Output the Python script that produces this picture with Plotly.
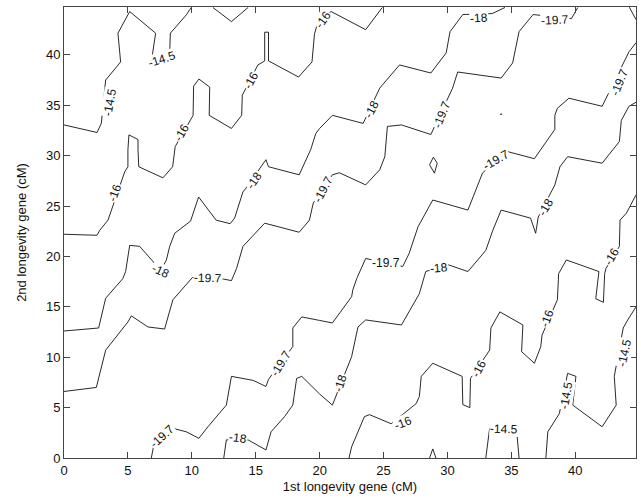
import plotly.graph_objects as go

# ---- contour levels ----
levels = [-14.5, -16, -18, -19.7]

# ---- contour paths (x = 1st gene cM, y = 2nd gene cM) ----
# level -14.5, upper-left
c145_tl_x = [0, 2.58, 2.92, 3.26, 4.43, 4.22, 5.14, 7.17, 6.83, 7.7, 8.27, 8.32, 9.57, 9.96]
c145_tl_y = [33.05, 32.3, 33.2, 37.5, 39.3, 42.15, 44.3, 42.15, 39.3, 39.6, 40.3, 42.15, 43.97, 44.7]
# level -14.5, small dip from top edge
c145_top_x = [11.65, 13.1, 14.4]
c145_top_y = [44.7, 43.3, 44.7]
# level -14.5, bottom arch
c145_arch_x = [33.0, 33.3, 35.4, 35.6]
c145_arch_y = [0, 2.95, 2.95, 0]
# level -14.5, lower-right
c145_br_x = [37.7, 37.85, 38.75, 39.4, 40.05, 39.8, 42.1, 43.2, 43.05, 43.75, 44.1, 44.75]
c145_br_y = [0, 2.6, 4.4, 8.4, 8.1, 5.25, 3.1, 5.25, 8.1, 12.9, 13.7, 15.0]

# level -16, upper-left band
c16_up_x = [0, 2.58, 2.8, 3.44, 4.75, 5.0, 5.0, 5.08, 5.79, 5.79, 5.85, 7.74, 8.5, 8.66, 8.7,
            10.1, 10.14, 10.56, 11.4, 11.36, 13.1, 13.9, 13.95, 15.17, 15.7, 15.7, 16.0, 16.0,
            18.35, 19.4, 19.6, 19.9, 20.9, 23.6, 24.9]
c16_up_y = [22.2, 22.1, 22.6, 23.6, 28.4, 28.9, 30.6, 32.06, 31.6, 30.6, 28.9, 27.8, 28.9, 30.6, 30.9,
            34.0, 36.9, 37.6, 36.8, 34.0, 32.7, 34.0, 36.0, 39.0, 39.4, 42.25, 42.25, 39.4,
            37.8, 39.3, 42.1, 43.4, 44.3, 42.5, 44.7]
# level -16, lower-right band
c16_lo_x = [22.3, 22.5, 23.5, 23.9, 25.6, 27.55, 27.8, 27.95, 28.85, 31.15, 31.2, 31.75, 31.8,
            33.3, 33.4, 34.1, 35.9, 35.8, 36.8, 37.3, 37.4, 38.6, 38.7, 39.3, 41.85, 41.6,
            42.2, 42.3, 42.4, 43.45, 43.5, 44.0, 44.75]
c16_lo_y = [0, 1.1, 4.1, 4.3, 3.4, 5.4, 6.1, 8.1, 9.4, 8.1, 5.3, 5.0, 7.9,
            10.7, 12.9, 14.5, 13.2, 10.55, 9.4, 11.05, 12.2, 15.7, 18.3, 19.65, 18.5, 15.8,
            15.45, 18.3, 18.8, 21.0, 23.6, 24.3, 26.1]
# level -16, tiny spike at the bottom edge
c16_spk_x = [28.6, 28.85, 29.1]
c16_spk_y = [0, 0.9, 0]

# level -18, upper-left band
c18_up_x = [0, 2.71, 3.26, 4.6, 4.82, 5.08, 5.14, 5.92, 7.1, 7.6, 8.0, 8.27, 8.66, 9.9, 10.53,
            11.9, 13.0, 13.35, 14.0, 14.25, 15.8, 16.0, 18.4, 19.3, 19.7, 20.0, 21.0, 23.4,
            24.7, 26.25, 28.7, 29.9, 30.2, 31.2, 33.5, 34.5]
c18_up_y = [12.6, 12.9, 15.85, 17.8, 18.5, 20.6, 21.1, 21.0, 19.3, 18.7, 19.6, 21.0, 22.3, 23.5, 25.9,
            23.6, 23.25, 23.8, 26.4, 26.8, 29.6, 28.9, 28.1, 30.6, 32.2, 32.7, 34.0, 33.2,
            36.7, 39.0, 38.2, 40.2, 42.3, 44.0, 44.1, 44.7]
# level -18, lower-right band
c18_lo_x = [12.5, 12.7, 14.4, 15.8, 16.2, 17.25, 17.9, 18.2, 18.6, 20.0, 21.0, 22.5, 23.0, 23.6,
            26.4, 27.8, 28.3, 30.0, 31.6, 33.0, 33.55, 34.2, 36.5, 36.9, 37.1, 38.4, 38.8,
            39.4, 42.1, 43.45, 43.6, 43.8, 44.2, 44.75]
c18_lo_y = [0, 1.8, 1.8, 0.8, 2.6, 4.1, 5.25, 7.9, 8.1, 6.35, 5.25, 10.05, 13.0, 13.7,
            13.2, 16.3, 18.5, 19.2, 18.5, 20.6, 22.6, 24.6, 23.8, 22.3, 23.9, 27.1, 28.9,
            29.9, 29.25, 31.4, 33.5, 34.0, 34.9, 35.3]

# level -19.7, upper-left band
c197_up_x = [0, 2.53, 3.26, 5.0, 5.27, 6.57, 7.87, 8.52, 10.04, 12.5, 13.1, 13.5, 14.0, 15.7,
             18.4, 19.2, 19.5, 21.0, 21.55, 23.6, 24.7, 25.1, 25.3, 26.4, 28.7, 30.4, 30.8,
             34.2, 35.1, 35.6, 36.7, 39.7, 40.2]
c197_up_y = [6.6, 7.0, 10.7, 13.5, 14.1, 13.0, 12.8, 15.7, 17.9, 17.75, 17.6, 18.8, 21.0, 23.3,
             22.4, 23.6, 25.3, 28.1, 28.3, 27.1, 28.6, 29.9, 32.9, 33.05, 32.1, 36.7, 38.3,
             37.7, 39.2, 42.3, 44.0, 43.6, 44.7]
# level -19.7, lower-right band
c197_lo_x = [6.83, 7.0, 8.5, 9.57, 10.55, 11.26, 12.7, 13.1, 14.8, 15.8, 16.0, 17.9, 17.9, 18.6,
             20.0, 21.0, 22.5, 22.6, 22.9, 23.6, 26.5, 27.0, 27.7, 28.85, 31.6, 32.75, 34.7,
             36.8, 38.4, 38.4, 38.6, 39.5, 42.1, 42.5, 43.6, 44.2, 44.75]
c197_lo_y = [0, 1.1, 2.95, 2.6, 1.95, 3.1, 5.25, 8.1, 7.7, 7.1, 7.8, 11.05, 12.9, 14.0,
             13.65, 13.4, 16.0, 16.7, 17.8, 19.8, 19.0, 20.3, 22.95, 25.6, 24.6, 28.3, 30.4,
             29.7, 32.6, 34.0, 34.7, 35.7, 34.9, 35.9, 38.8, 40.3, 41.2]
# level -19.7, small closed loop
c197_loop_x = [28.6, 28.9, 29.2, 28.98, 28.6]
c197_loop_y = [29.1, 29.85, 29.25, 28.26, 29.1]
# level -19.7, tiny dot
c197_dot_x = [34.15, 34.2, 34.25, 34.2, 34.15]
c197_dot_y = [34.1, 34.17, 34.1, 34.03, 34.1]
# level -19.7, top-right corner piece
c197_corner_x = [44.23, 44.75]
c197_corner_y = [44.73, 43.5]

paths = [
    (c145_tl_x, c145_tl_y), (c145_top_x, c145_top_y), (c145_arch_x, c145_arch_y),
    (c145_br_x, c145_br_y), (c16_up_x, c16_up_y), (c16_lo_x, c16_lo_y),
    (c16_spk_x, c16_spk_y), (c18_up_x, c18_up_y), (c18_lo_x, c18_lo_y),
    (c197_up_x, c197_up_y), (c197_lo_x, c197_lo_y), (c197_loop_x, c197_loop_y),
    (c197_dot_x, c197_dot_y), (c197_corner_x, c197_corner_y),
]

# ---- inline contour labels ----
label_text = ["-14.5", "-14.5", "-16", "-16", "-16", "-16",
              "-18", "-18", "-18", "-18",
              "-19.7", "-19.7", "-19.7", "-19.7",
              "-19.7", "-19.7", "-19.7", "-19.7", "-19.7",
              "-18", "-18", "-18", "-18",
              "-16", "-16", "-16", "-16",
              "-14.5", "-14.5", "-14.5"]
label_x = [3.6, 7.7, 3.96, 9.25, 14.65, 20.25,
           7.55, 14.9, 24.1, 32.5,
           11.25, 20.3, 29.6, 38.45,
           7.7, 17.0, 25.2, 33.8, 43.45,
           13.6, 21.65, 29.3, 37.7,
           26.5, 32.5, 37.8, 42.9,
           34.4, 39.25, 43.85]
label_y = [35.3, 39.6, 26.3, 32.3, 37.5, 43.5,
           18.6, 27.6, 34.6, 43.7,
           17.9, 26.7, 34.1, 43.45,
           2.2, 9.4, 19.3, 29.6, 37.35,
           1.95, 7.4, 18.85, 24.9,
           3.5, 8.9, 13.9, 20.0,
           2.9, 6.2, 10.4]
label_angle = [-80, -18, -70, -60, -62, -55,
               25, -55, -62, -4,
               2, -62, -68, -3,
               -42, -58, 0, -30, -68,
               8, -72, -5, -60,
               -22, -62, -70, -60,
               2, -80, -78]

fig = go.Figure()
for px_, py_ in paths:
    fig.add_trace(go.Scatter(x=px_, y=py_, mode="lines",
                             line=dict(color="#111111", width=0.9),
                             hoverinfo="skip", showlegend=False))

for t, lx, ly, la in zip(label_text, label_x, label_y, label_angle):
    fig.add_annotation(x=lx, y=ly, text=t, showarrow=False, textangle=la,
                       font=dict(family="Liberation Sans, Arial, sans-serif", size=12, color="#111"),
                       bgcolor="white", borderpad=0, xref="x", yref="y")

axis_common = dict(
    showgrid=False, zeroline=False, showline=True, linecolor="#444", linewidth=1,
    mirror="ticks", ticks="inside", ticklen=6, tickcolor="#444", tickwidth=1,
    tickfont=dict(family="Liberation Sans, Arial, sans-serif", size=13, color="#111"),
)

fig.update_layout(
    width=641, height=498,
    margin=dict(l=64, r=5, t=7, b=40),
    paper_bgcolor="white", plot_bgcolor="white",
    xaxis=dict(range=[0, 44.75], tickvals=[0, 5, 10, 15, 20, 25, 30, 35, 40],
               title=dict(text="1st longevity gene (cM)", standoff=5,
                          font=dict(family="Liberation Sans, Arial, sans-serif", size=13, color="#111")),
               **axis_common),
    yaxis=dict(range=[0, 44.75], tickvals=[0, 5, 10, 15, 20, 25, 30, 35, 40],
               title=dict(text="2nd longevity gene (cM)", standoff=16,
                          font=dict(family="Liberation Sans, Arial, sans-serif", size=13, color="#111")),
               **axis_common),
)

fig.write_html("out.html", config={"displayModeBar": False},
               post_script="document.body.style.margin='0px';document.body.style.overflow='hidden';")
